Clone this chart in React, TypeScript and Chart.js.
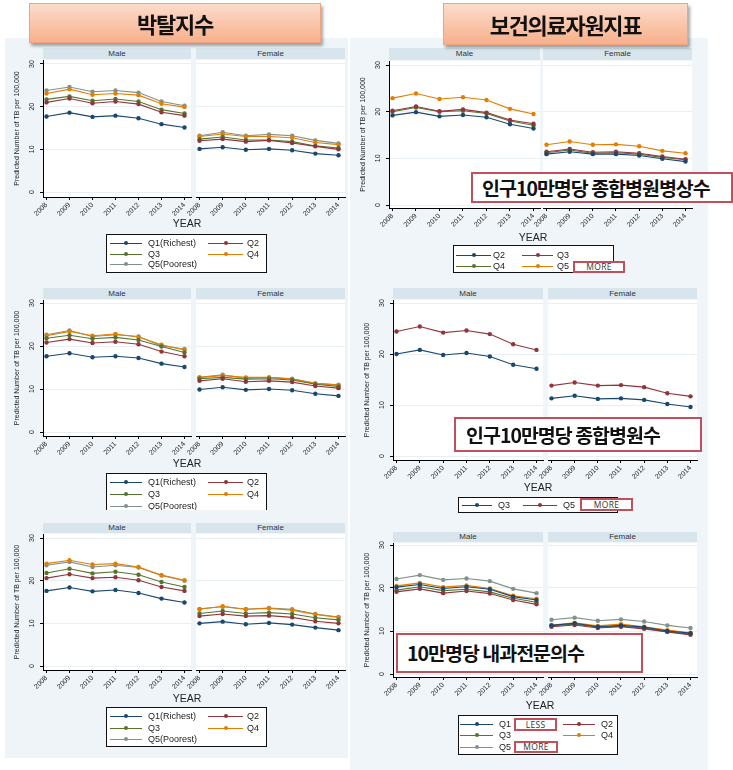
import React, { useEffect, useRef } from "react";
import { Chart, registerables } from "chart.js";
Chart.register(...registerables);

const YEARS = [2008, 2009, 2010, 2011, 2012, 2013, 2014];
const Y_TICKS = [0, 10, 20, 30];
const Y_TITLE = "Predicted Number of TB per 100,000";

const LABELS_DEP = ["Q1(Richest)", "Q2", "Q3", "Q4", "Q5(Poorest)"];
const LABELS_BEDS = ["Q2", "Q3", "Q4", "Q5"];
const LABELS_HOSP = ["Q3", "Q5"];
const LABELS_DOC = ["Q1", "Q2", "Q3", "Q4", "Q5"];

const COLORS = ["#1a476f", "#90353b", "#55752f", "#e37e00", "#7f928b"];

// Figure 1: deprivation index (top)
const F1_MALE = [
  [17.7, 18.6, 17.6, 17.9, 17.3, 15.9, 15.1],
  [21.0, 21.9, 20.8, 21.2, 20.6, 18.7, 17.9],
  [21.7, 22.4, 21.4, 21.8, 21.2, 19.3, 18.4],
  [23.1, 24.1, 22.8, 23.1, 22.7, 20.7, 19.9],
  [23.8, 24.6, 23.5, 23.8, 23.3, 21.2, 20.2],
];
const F1_FEMALE = [
  [10.1, 10.5, 9.9, 10.1, 9.8, 9.0, 8.6],
  [12.0, 12.4, 11.8, 12.1, 11.5, 10.7, 10.0],
  [12.4, 12.9, 12.2, 12.2, 11.8, 10.8, 10.3],
  [13.0, 13.6, 13.0, 13.0, 12.7, 11.6, 11.1],
  [13.2, 14.0, 13.2, 13.5, 13.2, 12.1, 11.4],
];
// Figure 2: hospital beds per 100,000
const F2_MALE = [
  [19.2, 19.9, 19.0, 19.3, 18.8, 17.3, 16.4],
  [20.2, 21.1, 20.1, 20.5, 19.8, 18.2, 17.4],
  [20.0, 20.9, 20.0, 20.2, 19.6, 18.0, 17.1],
  [22.9, 23.9, 22.7, 23.1, 22.5, 20.6, 19.5],
];
const F2_FEMALE = [
  [10.9, 11.4, 10.9, 10.9, 10.6, 9.9, 9.3],
  [11.4, 12.0, 11.3, 11.4, 11.1, 10.4, 9.8],
  [11.2, 11.8, 11.1, 11.2, 10.9, 10.2, 9.7],
  [12.9, 13.6, 12.9, 13.0, 12.6, 11.6, 11.1],
];
// Figure 3: deprivation index (middle)
const F3_MALE = [
  [17.6, 18.3, 17.4, 17.6, 17.2, 15.9, 15.1],
  [20.8, 21.6, 20.7, 21.0, 20.4, 18.7, 17.6],
  [21.8, 22.5, 21.7, 22.0, 21.4, 19.9, 18.5],
  [22.4, 23.4, 22.4, 22.8, 22.1, 20.3, 19.1],
  [22.6, 23.6, 22.2, 22.6, 22.2, 20.0, 19.3],
];
const F3_FEMALE = [
  [9.9, 10.4, 9.8, 10.0, 9.7, 8.9, 8.4],
  [11.9, 12.4, 11.7, 11.9, 11.6, 10.7, 10.2],
  [12.4, 12.7, 12.3, 12.4, 12.1, 11.1, 10.6],
  [12.7, 13.1, 12.7, 12.7, 12.3, 11.3, 10.9],
  [12.7, 13.3, 12.5, 12.7, 12.4, 11.3, 11.0],
];
// Figure 4: general hospitals per 100,000
const F4_MALE = [
  [20.0, 20.8, 19.8, 20.2, 19.5, 17.9, 17.1],
  [24.4, 25.4, 24.2, 24.6, 23.9, 21.9, 20.8],
];
const F4_FEMALE = [
  [11.3, 11.8, 11.2, 11.3, 11.0, 10.2, 9.6],
  [13.8, 14.4, 13.8, 13.9, 13.5, 12.3, 11.7],
];
// Figure 5: deprivation index (bottom)
const F5_MALE = [
  [17.6, 18.4, 17.5, 17.8, 17.1, 15.8, 14.9],
  [20.6, 21.5, 20.6, 20.8, 20.1, 18.5, 17.6],
  [21.8, 22.8, 21.7, 22.1, 21.4, 19.7, 18.5],
  [24.0, 24.8, 23.8, 24.0, 23.2, 21.3, 20.1],
  [23.6, 24.4, 23.2, 23.6, 23.1, 21.2, 20.0],
];
const F5_FEMALE = [
  [10.0, 10.4, 9.8, 10.1, 9.7, 9.0, 8.4],
  [11.7, 12.2, 11.7, 11.8, 11.4, 10.5, 10.0],
  [12.3, 12.9, 12.3, 12.5, 12.2, 11.3, 10.8],
  [13.3, 14.0, 13.3, 13.5, 13.1, 12.1, 11.4],
  [13.4, 13.9, 13.3, 13.6, 13.3, 12.2, 11.5],
];
// Figure 6: internal medicine specialists per 100,000
const F6_MALE = [
  [20.2, 20.8, 19.9, 20.3, 19.7, 18.0, 17.2],
  [19.1, 19.8, 18.8, 19.3, 18.7, 17.2, 16.2],
  [19.5, 20.3, 19.4, 19.7, 19.1, 17.6, 16.7],
  [20.5, 21.2, 20.2, 20.6, 19.9, 18.2, 17.5],
  [22.1, 23.0, 21.9, 22.2, 21.6, 19.8, 18.8],
];
const F6_FEMALE = [
  [11.3, 11.8, 11.0, 11.3, 10.9, 10.0, 9.5],
  [11.0, 11.4, 10.7, 11.0, 10.5, 9.8, 9.1],
  [11.2, 11.6, 10.9, 11.1, 10.7, 9.8, 9.3],
  [11.4, 11.9, 11.2, 11.6, 11.0, 10.2, 9.6],
  [12.6, 13.1, 12.4, 12.7, 12.2, 11.3, 10.7],
];

const FONT = "'Liberation Sans', Arial, sans-serif";
const KFONT = "'Noto Sans CJK KR', 'Noto Sans', sans-serif";

const plotBgPlugin = {
  id: "plotBg",
  beforeDraw(chart: any) {
    const { ctx, chartArea: a } = chart;
    ctx.save();
    ctx.fillStyle = "#ffffff";
    ctx.fillRect(a.left, a.top, a.right - a.left, a.bottom - a.top);
    ctx.restore();
  },
};

const yRotTicksPlugin = {
  id: "yRotTicks",
  afterDraw(chart: any, _args: any, opts: any) {
    if (!opts || !opts.show) return;
    const s = chart.scales.y;
    const ctx = chart.ctx;
    ctx.save();
    ctx.fillStyle = "#222";
    ctx.font = "7px " + FONT;
    ctx.textAlign = "center";
    ctx.textBaseline = "middle";
    for (const t of s.ticks) {
      const y = s.getPixelForValue(t.value);
      ctx.save();
      ctx.translate(chart.chartArea.left - opts.offset, y);
      ctx.rotate(-Math.PI / 2);
      ctx.fillText(String(t.value), 0, 0);
      ctx.restore();
    }
    ctx.restore();
  },
};

type PanelProps = {
  pL: number; pR: number; plotTop: number; plotBottom: number;
  y30: number; y0: number; showY: boolean;
  series: number[][]; labels: string[]; colors: string[];
};

function Panel(p: PanelProps) {
  const ref = useRef<HTMLCanvasElement | null>(null);
  const padTop = 4, padRight = 4, xH = 26;
  const yW = p.showY ? 34 : 0;
  const padLeft = p.showY ? 0 : 18;
  const leftExtra = p.showY ? yW : padLeft;
  const w = p.pR - p.pL + leftExtra + padRight;
  const h = p.plotBottom - p.plotTop + padTop + xH;
  const ppu = (p.y0 - p.y30) / 30;
  const yMax = 30 + (p.y30 - p.plotTop) / ppu;
  const yMin = -(p.plotBottom - p.y0) / ppu;
  const pxYr = (p.pR - p.pL - 10) / 6;
  const xMin = 2008 - 3.5 / pxYr;
  const xMax = 2014 + 6.5 / pxYr;

  useEffect(() => {
    if (!ref.current) return;
    const chart = new Chart(ref.current, {
      type: "line",
      data: {
        datasets: p.series.map((vals, i) => ({
          label: p.labels[i],
          data: YEARS.map((x, j) => ({ x, y: vals[j] })),
          borderColor: p.colors[i],
          backgroundColor: p.colors[i],
          pointBackgroundColor: p.colors[i],
          pointBorderColor: p.colors[i],
          pointRadius: 2.2,
          pointBorderWidth: 0,
          borderWidth: 1.1,
          tension: 0,
          fill: false,
        })),
      },
      options: {
        animation: false,
        responsive: false,
        maintainAspectRatio: false,
        layout: { padding: { left: padLeft, top: padTop, right: padRight, bottom: 0 } },
        plugins: {
          legend: { display: false },
          tooltip: { enabled: false },
          yRotTicks: { show: p.showY, offset: 11 },
        } as any,
        scales: {
          x: {
            type: "linear",
            min: xMin,
            max: xMax,
            afterBuildTicks: (s: any) => { s.ticks = YEARS.map((v) => ({ value: v })); },
            afterFit: (s: any) => { s.height = xH; s.paddingLeft = 0; s.paddingRight = 0; },
            grid: { display: true, drawOnChartArea: false, drawTicks: true, tickLength: 3, tickColor: "#000" },
            border: { display: true, color: "#000", width: 1 },
            ticks: {
              autoSkip: false, minRotation: 45, maxRotation: 45, padding: 1,
              font: { size: 7, family: FONT }, color: "#222",
              callback: (v: any) => String(v),
            },
          },
          y: {
            type: "linear",
            min: yMin,
            max: yMax,
            afterBuildTicks: (s: any) => { s.ticks = Y_TICKS.map((v) => ({ value: v })); },
            afterFit: (s: any) => { s.width = yW; s.paddingTop = 0; s.paddingBottom = 0; },
            grid: { color: "#e9f0f5", lineWidth: 1, drawTicks: p.showY, tickLength: 3, tickColor: "#000" },
            border: { display: p.showY, color: "#000", width: 1 },
            ticks: { display: false },
            title: {
              display: p.showY, text: Y_TITLE, color: "#222",
              font: { size: 7, family: FONT }, padding: { top: 4, bottom: 0 },
            },
          },
        },
      } as any,
      plugins: [plotBgPlugin, yRotTicksPlugin],
    });
    return () => chart.destroy();
  }, []);

  return (
    <canvas
      ref={ref}
      width={w}
      height={h}
      style={{ position: "absolute", left: p.pL - leftExtra, top: p.plotTop - padTop, width: w, height: h }}
    />
  );
}

type LegendCfg = {
  left: number; top: number; width: number; height: number; noBottom?: boolean;
  rows: number[]; cols: number[][]; // [lineX, lineW, textX]
};

function Legend({ cfg, labels, colors }: { cfg: LegendCfg; labels: string[]; colors: string[] }) {
  return (
    <div
      style={{
        position: "absolute", left: cfg.left, top: cfg.top, width: cfg.width, height: cfg.height,
        background: "#fff", border: "1px solid #111", borderBottom: cfg.noBottom ? "none" : "1px solid #111",
        boxSizing: "border-box", overflow: "hidden",
      }}
    >
      {labels.map((lab, i) => {
        const r = Math.floor(i / 2), c = i % 2;
        const [lx, lw, tx] = cfg.cols[c];
        const y = cfg.rows[r];
        return (
          <React.Fragment key={i}>
            <div style={{ position: "absolute", left: lx - 1, top: y - 1, width: lw, height: 1, background: colors[i] }} />
            <div style={{ position: "absolute", left: lx - 1 + lw / 2 - 2, top: y - 3, width: 4, height: 4, borderRadius: 2, background: colors[i] }} />
            <div style={{ position: "absolute", left: tx - 1, top: y - 7, height: 12, lineHeight: "12px", fontSize: 9, color: "#222", fontFamily: FONT, whiteSpace: "nowrap" }}>{lab}</div>
          </React.Fragment>
        );
      })}
    </div>
  );
}

type FigCfg = {
  mL: number; mR: number; fL: number; fR: number;
  stripTop: number; plotTop: number; plotBottom: number; y30: number; y0: number;
  yearX: number; yearY: number;
  male: number[][]; female: number[][]; labels: string[]; colors: string[];
  legendLabels: string[]; legend: LegendCfg;
};

const COL_DEP = [[4, 32, 42], [102, 35, 141]];

const FIGS: FigCfg[] = [
  {
    mL: 43, mR: 191, fL: 196, fR: 345, stripTop: 48, plotTop: 60, plotBottom: 197, y30: 64, y0: 192,
    yearX: 187, yearY: 223, male: F1_MALE, female: F1_FEMALE, labels: LABELS_DEP, colors: COLORS,
    legendLabels: LABELS_DEP,
    legend: { left: 106, top: 234, width: 161, height: 39, rows: [9, 19.5, 30], cols: COL_DEP },
  },
  {
    mL: 389, mR: 540, fL: 543, fR: 692, stripTop: 48, plotTop: 61, plotBottom: 208, y30: 65, y0: 205,
    yearX: 533, yearY: 237, male: F2_MALE, female: F2_FEMALE, labels: LABELS_BEDS, colors: COLORS.slice(0, 4),
    legendLabels: LABELS_BEDS,
    legend: { left: 453, top: 245, width: 161, height: 28, rows: [10, 21], cols: [[3, 35, 40], [69, 31, 104]] },
  },
  {
    mL: 43, mR: 191, fL: 196, fR: 345, stripTop: 288, plotTop: 300, plotBottom: 436, y30: 303, y0: 432,
    yearX: 187, yearY: 463, male: F3_MALE, female: F3_FEMALE, labels: LABELS_DEP, colors: COLORS,
    legendLabels: LABELS_DEP,
    legend: { left: 106, top: 473, width: 161, height: 37, noBottom: true, rows: [9, 21, 33], cols: COL_DEP },
  },
  {
    mL: 393, mR: 543, fL: 548, fR: 697, stripTop: 288, plotTop: 300, plotBottom: 460, y30: 303, y0: 456,
    yearX: 538, yearY: 487, male: F4_MALE, female: F4_FEMALE, labels: LABELS_HOSP, colors: COLORS.slice(0, 2),
    legendLabels: LABELS_HOSP,
    legend: { left: 458, top: 497, width: 160, height: 16, rows: [8], cols: [[4, 30, 40], [65, 34, 105]] },
  },
  {
    mL: 43, mR: 191, fL: 196, fR: 345, stripTop: 523, plotTop: 534, plotBottom: 670, y30: 538, y0: 666,
    yearX: 187, yearY: 698, male: F5_MALE, female: F5_FEMALE, labels: LABELS_DEP, colors: COLORS,
    legendLabels: LABELS_DEP,
    legend: { left: 106, top: 707, width: 161, height: 40, rows: [9, 20.5, 32], cols: COL_DEP },
  },
  {
    mL: 393, mR: 543, fL: 548, fR: 697, stripTop: 532, plotTop: 543, plotBottom: 677, y30: 545, y0: 674,
    yearX: 540, yearY: 705, male: F6_MALE, female: F6_FEMALE, labels: LABELS_DOC, colors: COLORS,
    legendLabels: LABELS_DOC,
    legend: { left: 458, top: 715, width: 160, height: 40, rows: [8.5, 20, 32], cols: [[2, 33, 41], [105, 32, 143]] },
  },
];

function Strip({ left, right, top, bottom, text }: { left: number; right: number; top: number; bottom: number; text: string }) {
  return (
    <div
      style={{
        position: "absolute", left, top, width: right - left, height: bottom - top,
        background: "#d9e5ed", color: "#333", fontFamily: FONT, fontSize: 8,
        lineHeight: bottom - top + "px", textAlign: "center",
      }}
    >
      {text}
    </div>
  );
}

function Figure({ f }: { f: FigCfg }) {
  return (
    <>
      <Panel pL={f.mL} pR={f.mR} plotTop={f.plotTop} plotBottom={f.plotBottom} y30={f.y30} y0={f.y0}
        showY={true} series={f.male} labels={f.labels} colors={f.colors} />
      <Panel pL={f.fL} pR={f.fR} plotTop={f.plotTop} plotBottom={f.plotBottom} y30={f.y30} y0={f.y0}
        showY={false} series={f.female} labels={f.labels} colors={f.colors} />
      <Strip left={f.mL} right={f.mR} top={f.stripTop} bottom={f.plotTop - 1} text="Male" />
      <Strip left={f.fL} right={f.fR} top={f.stripTop} bottom={f.plotTop - 1} text="Female" />
      <div style={{ position: "absolute", left: f.yearX - 30, top: f.yearY - 7, width: 60, textAlign: "center", fontFamily: FONT, fontSize: 10.5, color: "#222", lineHeight: "14px" }}>YEAR</div>
      <Legend cfg={f.legend} labels={f.legendLabels} colors={f.colors} />
    </>
  );
}

function Header({ left, top, width, height, text }: { left: number; top: number; width: number; height: number; text: string }) {
  return (
    <div
      style={{
        position: "absolute", left, top, width, height, boxSizing: "border-box",
        background: "linear-gradient(#fcdccb, #f7b08c)", border: "1px solid #f2a47c",
        boxShadow: "2px 3px 3px rgba(0,0,0,0.35)",
        fontFamily: KFONT, fontWeight: 700, fontSize: 22, letterSpacing: -1.3,
        color: "#111", textAlign: "center", lineHeight: height - 2 + "px",
      }}
    >
      {text}
    </div>
  );
}

function NoteBox({ left, top, width, height, padLeft, text }: { left: number; top: number; width: number; height: number; padLeft: number; text: string }) {
  return (
    <div
      style={{
        position: "absolute", left, top, width, height, boxSizing: "border-box",
        background: "#fff", border: "2px solid #c2505c", paddingLeft: padLeft - 2,
        fontFamily: KFONT, fontWeight: 700, fontSize: 19.5, letterSpacing: -1,
        color: "#111", lineHeight: height - 4 + "px", whiteSpace: "nowrap", overflow: "hidden",
      }}
    >
      {text}
    </div>
  );
}

function TagBox({ left, top, width, height, text }: { left: number; top: number; width: number; height: number; text: string }) {
  return (
    <div
      style={{
        position: "absolute", left, top, width, height, boxSizing: "border-box",
        background: "#fff", border: "2px solid #c2505c",
        fontFamily: "'Open Sans', " + FONT, fontSize: 8.5, color: "#333", textAlign: "center",
        lineHeight: height - 4 + "px", letterSpacing: 0.3,
      }}
    >
      {text}
    </div>
  );
}

export default function App() {
  useEffect(() => {
    document.body.style.margin = "0";
  }, []);
  return (
    <div style={{ position: "absolute", left: 0, top: 0, width: 733, height: 770, overflow: "hidden", background: "#fff" }}>
      <div style={{ position: "absolute", left: 5, top: 38, width: 343, height: 720, background: "#eef4f8" }} />
      <div style={{ position: "absolute", left: 350, top: 38, width: 358, height: 732, background: "#eff5f9" }} />
      {FIGS.map((f, i) => (
        <Figure key={i} f={f} />
      ))}
      <Header left={29} top={3} width={292} height={40} text="박탈지수" />
      <Header left={443} top={3} width={245} height={42} text="보건의료자원지표" />
      <NoteBox left={471} top={172} width={262} height={31} padLeft={11} text="인구10만명당 종합병원병상수" />
      <NoteBox left={454} top={417} width={248} height={35} padLeft={12} text="인구10만명당 종합병원수" />
      <NoteBox left={396} top={633} width={247} height={40} padLeft={11} text="10만명당 내과전문의수" />
      <TagBox left={573} top={261} width={52} height={12} text="MORE" />
      <TagBox left={580} top={498} width={53} height={13} text="MORE" />
      <TagBox left={514} top={718} width={43} height={13} text="LESS" />
      <TagBox left={514} top={741} width={44} height={12} text="MORE" />
    </div>
  );
}
